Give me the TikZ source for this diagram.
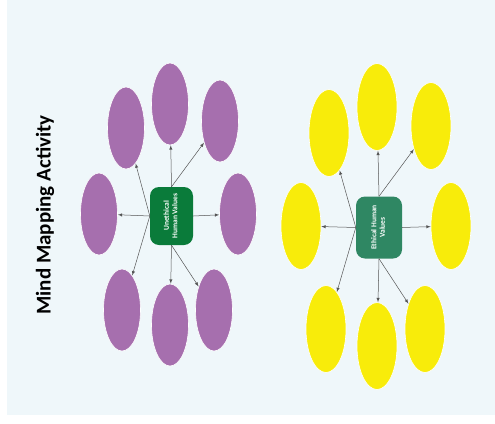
\documentclass[tikz,border=0pt]{standalone}
\usepackage{fontspec}
\setmainfont{Carlito}
\usepackage{tikz}
\usetikzlibrary{shapes.geometric}

\definecolor{bgblue}{HTML}{EFF7FA}
\definecolor{plum}{HTML}{A66FAE}
\definecolor{lemon}{HTML}{F8EC0A}
\definecolor{darkgreen}{HTML}{0A7B3A}
\definecolor{seagreen}{HTML}{2F8763}
\definecolor{linkgray}{HTML}{555555}

\newcommand{\hubtext}[2]{\rotatebox{90}{\begin{tabular}{@{}c@{}}#1\\#2\end{tabular}}}

\tikzset{
    blobU/.style = {ellipse, fill = plum, draw = white, line width = 0.6pt,
        minimum width = 37pt, minimum height = 82pt, inner sep = 0pt},
    blobE/.style = {ellipse, fill = lemon, draw = white, line width = 0.6pt,
        minimum width = 40pt, minimum height = 87pt, inner sep = 0pt},
    hub/.style = {rounded corners = 9pt, text = white, font = \bfseries\fontsize{7.5}{8.5}\selectfont,
        inner sep = 0pt},
    link/.style = {-latex, draw = linkgray, line width = 0.5pt}
}

\begin{document}
\begin{tikzpicture}[x = 1pt, y = -1pt]
        \useasboundingbox (0,0) rectangle (495,423);
        \fill[bgblue] (7,0) rectangle (495,415);
        \node[rotate = 90, font = \bfseries\fontsize{21}{23}\selectfont] (title) at (45,215) {Mind Mapping Activity};

        % unethical side
        \node[hub, fill = darkgreen, minimum width = 43pt, minimum height = 58pt] (uhub) at (171.5,216) {\hubtext{Unethical}{Human Values}};
        \node[blobU] (u1) at (99,214) {};
        \node[blobU] (u2) at (126,128) {};
        \node[blobU] (u3) at (170,104) {};
        \node[blobU] (u4) at (220,121) {};
        \node[blobU] (u5) at (238,214) {};
        \node[blobU] (u6) at (214,310) {};
        \node[blobU] (u7) at (170,325) {};
        \node[blobU] (u8) at (122,310) {};
        \draw[link] (uhub.west) -- (u1);
        \draw[link] (uhub.west) -- (u2);
        \draw[link] (uhub.west) -- (u8);
        \draw[link] (uhub.north) -- (u3);
        \draw[link] (uhub.north) -- (u4);
        \draw[link] (uhub.east) -- (u5);
        \draw[link] (uhub.south) -- (u6);
        \draw[link] (uhub.south) -- (u7);

        % ethical side
        \node[hub, fill = seagreen, minimum width = 46pt, minimum height = 62pt] (ehub) at (379,227.5) {\hubtext{Ethical Human}{Values}};
        \node[blobE] (e1) at (301,226) {};
        \node[blobE] (e2) at (329,133) {};
        \node[blobE] (e3) at (377,107) {};
        \node[blobE] (e4) at (431,126) {};
        \node[blobE] (e5) at (451,226) {};
        \node[blobE] (e6) at (425,329) {};
        \node[blobE] (e7) at (377,346) {};
        \node[blobE] (e8) at (326,329) {};
        \draw[link] (ehub.west) -- (e1);
        \draw[link] (ehub.west) -- (e2);
        \draw[link] (ehub.west) -- (e8);
        \draw[link] (ehub.north) -- (e3);
        \draw[link] (ehub.north) -- (e4);
        \draw[link] (ehub.east) -- (e5);
        \draw[link] (ehub.south) -- (e6);
        \draw[link] (ehub.south) -- (e7);
    \end{tikzpicture}
\end{document}
